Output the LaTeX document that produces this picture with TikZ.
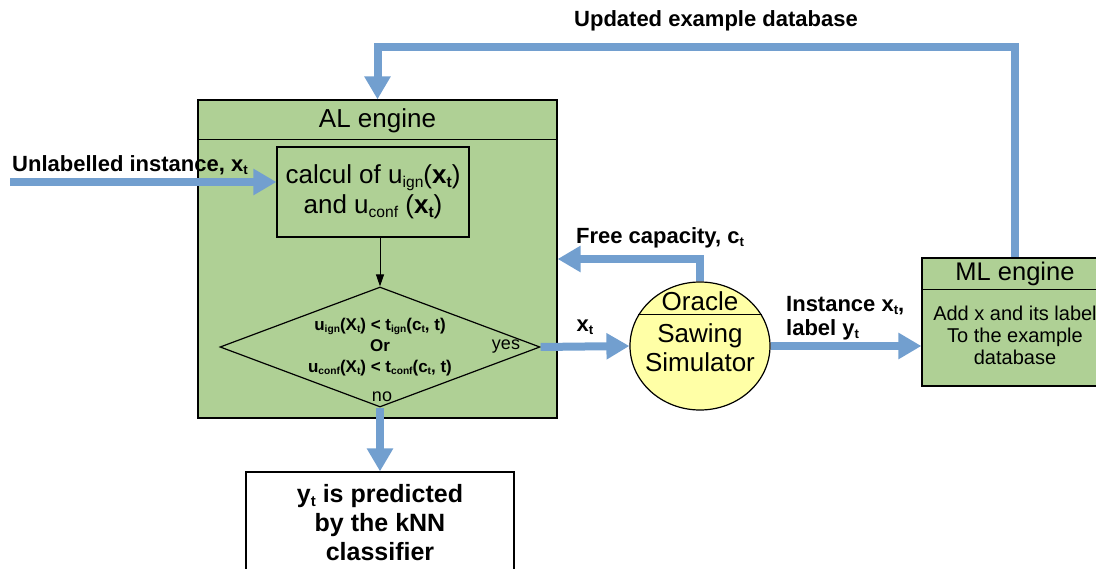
\documentclass[tikz,border=0pt]{standalone}
\usepackage{fontspec}
\setmainfont{Liberation Sans}
\usetikzlibrary{arrows.meta,shapes.geometric}
\definecolor{flowblue}{HTML}{729FCF}
\definecolor{algreen}{HTML}{AFD095}
\definecolor{oryellow}{HTML}{FFFFA6}
\newcommand{\sbs}[1]{\raisebox{-0.25ex}{\scalebox{0.6}{#1}}}
\tikzset{
  box/.style={draw, line width=1.2pt, fill=algreen, inner sep=0pt},
  flow/.style={draw=flowblue, line width=8pt, -{Triangle[width=25pt,length=23pt]}},
  lbl/.style={font=\fontsize{22}{24}\selectfont\bfseries, inner sep=0pt},
  big/.style={font=\fontsize{26}{30}\selectfont, inner sep=0pt, align=center},
}

\begin{document}
\begin{tikzpicture}[x=1pt,y=-1pt]
    \clip (0,0) rectangle (1096,569);

    \node[box, minimum width=359pt, minimum height=318pt] (al) at (377.5,259) {};
    \draw[line width=1.2pt] ([yshift=-40pt]al.north west) -- ([yshift=-40pt]al.north east);
    \node[big] (altitle) at (377.5,121) {AL engine};
    \node[box, big, minimum width=192pt, minimum height=90pt] (calc) at (373,192) {calcul of u\sbs{ign}(\textbf{x\sbs{t}})\\and u\sbs{conf} (\textbf{x\sbs{t}})};
    \node[box, diamond, aspect=2.67, minimum width=320pt, minimum height=120pt, align=center, font=\fontsize{17}{21}\selectfont\bfseries] (dec) at (380,347)
        {u\sbs{ign}(X\sbs{t}) < t\sbs{ign}(c\sbs{t}, t)\\Or\\u\sbs{conf}(X\sbs{t}) < t\sbs{conf}(c\sbs{t}, t)};
    \node[font=\fontsize{18}{20}\selectfont, inner sep=0pt] (yes) at (506,347) {yes};
    \node[font=\fontsize{18}{20}\selectfont, inner sep=0pt] (no) at (382,397) {no};

    \node[draw, line width=1.2pt, fill=white, minimum width=268pt, minimum height=102pt, align=center, font=\fontsize{25}{29}\selectfont\bfseries] (knn) at (380,523)
        {y\sbs{t} is predicted\\by the kNN\\classifier};

    \node[ellipse, draw, line width=1.2pt, fill=oryellow, minimum width=140pt, minimum height=128pt, inner sep=0pt] (oracle) at (700,346) {};
    \draw[line width=1pt] ([shift={(-61.8,-31)}]oracle.center) -- ([shift={(61.8,-31)}]oracle.center);
    \node[big] (ortitle) at (700,301) {Oracle};
    \node[big, font=\fontsize{26}{29}\selectfont] (sim) at (700,348) {Sawing\\Simulator};

    \node[box, minimum width=186pt, minimum height=128pt] (ml) at (1015,322) {};
    \draw[line width=1.2pt] ([yshift=-32pt]ml.north west) -- ([yshift=-32pt]ml.north east);
    \node[big, font=\fontsize{25.5}{30}\selectfont] (mltitle) at (1015,274) {ML engine};
    \node[align=center, font=\fontsize{20}{22}\selectfont, inner sep=0pt] (mlbody) at (1015,335) {Add x and its label\\To the example\\database};

    \coordinate (src) at (10,182);
    \draw[flow] (src) -- ([yshift=10pt]calc.west);
    \draw[-{Triangle[width=8pt,length=12pt]}, line width=1pt] (calc.south -| dec.north) -- (dec.north);
    \draw[flow] (dec.east) -- (oracle.west);
    \draw[flow] (dec.south) -- (knn.north);
    \draw[flow] (oracle.north) |- (al.east);
    \draw[flow] (oracle.east) -- (oracle.east -| ml.west);
    \draw[flow] (ml.north) -- ++(0,-210) -| (al.north);

    \node[lbl, anchor=west] (unl) at (12,165) {Unlabelled instance, x\sbs{t}};
    \node[lbl] (upd) at (716,21) {Updated example database};
    \node[lbl] (free) at (660,238) {Free capacity, c\sbs{t}};
    \node[lbl] (xt) at (585,327) {x\sbs{t}};
    \node[lbl, anchor=west, align=left] (inst) at (786,318) {Instance x\sbs{t},\\label y\sbs{t}};
\end{tikzpicture}
\end{document}
